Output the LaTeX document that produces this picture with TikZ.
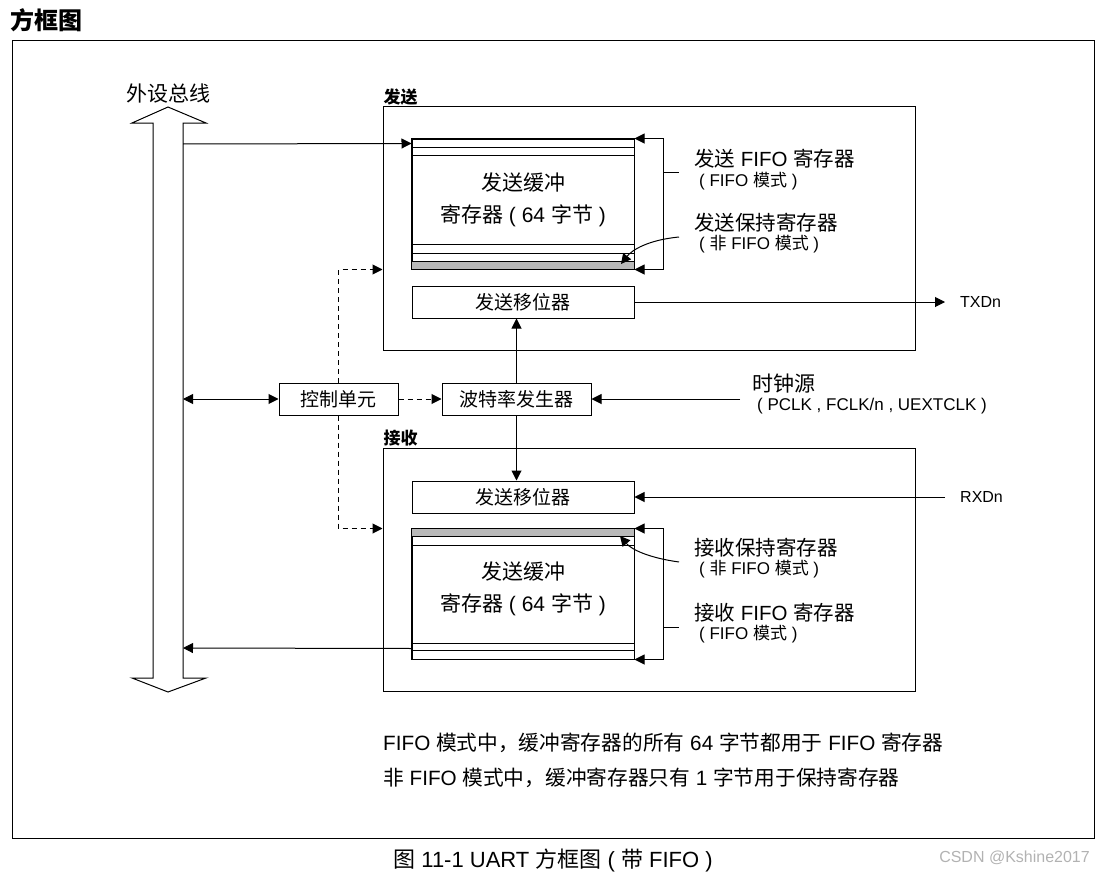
\documentclass[tikz,border=0pt]{standalone}
\usepackage{fontspec}
\setmainfont{Liberation Sans}
\newfontfamily\cjk{Noto Sans CJK SC}
\newcommand{\zh}[1]{{\cjk #1}}
\usetikzlibrary{arrows.meta,positioning}
\tikzset{
  arr/.style={line width=1pt,-{Triangle[length=10pt,width=10pt]}},
  dblarr/.style={line width=1pt,{Triangle[length=10pt,width=10pt]}-{Triangle[length=10pt,width=10pt]}},
  dasharr/.style={arr,dash pattern=on 5pt off 4pt},
  blk/.style={draw,line width=1pt,minimum width=222pt,minimum height=32pt,inner sep=0pt,font=\fontsize{19}{22}\selectfont\cjk},
  frm/.style={draw,line width=1pt,minimum width=532pt,minimum height=243pt,inner sep=0pt},
  big/.style={font=\fontsize{20.5}{22}\selectfont,inner sep=0pt},
  small/.style={font=\fontsize{17}{19}\selectfont,inner sep=0pt},
  sect/.style={anchor=south west,inner sep=1pt,font=\fontsize{17}{19}\selectfont\cjk\bfseries},
}
\begin{document}
\begin{tikzpicture}[x=1pt,y=-1pt]
  \useasboundingbox (0,0) rectangle (1104,875);
  \node[anchor=west,font=\fontsize{24}{26}\selectfont\cjk\bfseries,inner sep=0pt] (title) at (10,20) {方框图};
  \draw[line width=1pt] (12,41) rectangle (1094,838);

  % 外设总线
  \draw[line width=1pt] (153,678) -- (153,123) -- (132,123) -- (168,107) -- (206,123) -- (183,123)
     -- (183,678) -- (206,678) -- (168,692) -- (132,678) -- cycle;
  \node[big,font=\fontsize{21}{22}\selectfont\cjk] (bus) at (168,94) {外设总线};

  % 发送
  \node[frm] (txbox) at (649,228.5) {};
  \node[sect] at (txbox.north west) {发送};
  \node[draw,line width=1pt,minimum width=222pt,minimum height=130pt,inner sep=0pt] (txbuf) at (523,204) {};
  \fill[gray!55] ([yshift=8pt]txbuf.south west) rectangle (txbuf.south east);
  \foreach \d in {9,17} {
    \draw[line width=1pt] ([yshift=-\d pt]txbuf.north west) -- ([yshift=-\d pt]txbuf.north east);
  }
  \foreach \d in {8,16,25} {
    \draw[line width=1pt] ([yshift=\d pt]txbuf.south west) -- ([yshift=\d pt]txbuf.south east);
  }
  \draw[line width=1pt] (txbuf.south west) rectangle (txbuf.north east);
  \node[big,align=center,font=\fontsize{21}{22}\selectfont] at ([yshift=4pt]txbuf.center) {\zh{发送缓冲}\\[10pt]\zh{寄存器} ( 64 \zh{字节} )};
  \node[blk] (txshift) at (523,302) {发送移位器};

  \coordinate (txbr) at (663,172);
  \draw[arr] (txbr) |- (txbuf.north east);
  \draw[arr] (txbr) |- (txbuf.south east);
  \draw[line width=1pt] (txbr) -- ++(16,0);
  \draw[arr] (679,237) .. controls (648,240) and (632,250) .. (621,264);
  \node[big,anchor=west] (txfifo) at (694,159) {\zh{发送} FIFO \zh{寄存器}};
  \node[small,anchor=west] at (699,181) {( FIFO \zh{模式} )};
  \node[big,anchor=west] (txhold) at (694,223) {\zh{发送保持寄存器}};
  \node[small,anchor=west] at (699,244) {( \zh{非} FIFO \zh{模式} )};

  \coordinate (txd) at (945,302);
  \draw[arr] (txshift.east) -- (txd);
  \node[small,font=\fontsize{16}{18}\selectfont,anchor=west] at (960,302) {TXDn};

  % 控制 / 波特率
  \node[blk,minimum width=119pt] (ctrl) at (338.5,399) {控制单元};
  \node[blk,minimum width=149pt] (baud) at (516.5,399) {波特率发生器};
  \draw[dblarr] (183,399) -- (ctrl.west);
  \draw[dasharr] (ctrl.east) -- (baud.west);
  \draw[arr] (baud.north) -- (baud.north |- txshift.south);
  \coordinate (clk) at (740,399);
  \draw[arr] (clk) -- (baud.east);
  \node[big,anchor=west,font=\fontsize{21}{22}\selectfont\cjk] at (752,384) {时钟源};
  \node[small,anchor=west] at (757,406) {( PCLK , FCLK/n , UEXTCLK )};

  % 接收
  \node[frm] (rxbox) at (649,569.5) {};
  \node[sect] at (rxbox.north west) {接收};
  \node[blk] (rxshift) at (523,497) {发送移位器};
  \draw[arr] (baud.south) -- (baud.south |- rxshift.north);
  \node[draw,line width=1pt,minimum width=222pt,minimum height=130pt,inner sep=0pt] (rxbuf) at (523,594) {};
  \fill[gray!55] (rxbuf.north west) rectangle ([yshift=-8pt]rxbuf.north east);
  \foreach \d in {8,17} {
    \draw[line width=1pt] ([yshift=-\d pt]rxbuf.north west) -- ([yshift=-\d pt]rxbuf.north east);
  }
  \foreach \d in {9,16} {
    \draw[line width=1pt] ([yshift=\d pt]rxbuf.south west) -- ([yshift=\d pt]rxbuf.south east);
  }
  \draw[line width=1pt] (rxbuf.south west) rectangle (rxbuf.north east);
  \node[big,align=center,font=\fontsize{21}{22}\selectfont] at ([yshift=5pt]rxbuf.center) {\zh{发送缓冲}\\[10pt]\zh{寄存器} ( 64 \zh{字节} )};

  \coordinate (rxbr) at (663,627);
  \draw[arr] (rxbr) |- (rxbuf.north east);
  \draw[arr] (rxbr) |- (rxbuf.south east);
  \draw[line width=1pt] (rxbr) -- ++(16,0);
  \draw[arr] (679,562) .. controls (650,558) and (632,550) .. (620,536);
  \node[big,anchor=west] (rxhold) at (694,548) {\zh{接收保持寄存器}};
  \node[small,anchor=west] at (699,569) {( \zh{非} FIFO \zh{模式} )};
  \node[big,anchor=west] (rxfifo) at (694,613) {\zh{接收} FIFO \zh{寄存器}};
  \node[small,anchor=west] at (699,634) {( FIFO \zh{模式} )};

  \coordinate (rxd) at (945,497);
  \draw[arr] (rxd) -- (rxshift.east);
  \node[small,font=\fontsize{16}{18}\selectfont,anchor=west] at (960,497) {RXDn};

  % 总线连接
  \draw[arr] (183,144) -- ([yshift=-5pt]txbuf.north west);
  \draw[arr] ([yshift=11pt]rxbuf.south west) -- (183,648);
  \draw[dasharr] (ctrl.north) |- (txbox.west |- txbuf.south);
  \draw[dasharr] (ctrl.south) |- (rxbox.west |- rxbuf.north);

  \node[big,font=\fontsize{20.7}{22}\selectfont,anchor=west] at (383,743) {FIFO \zh{模式中，缓冲寄存器的所有} 64 \zh{字节都用于} FIFO \zh{寄存器}};
  \node[big,font=\fontsize{20.7}{22}\selectfont,anchor=west] at (383,778) {\zh{非} FIFO \zh{模式中，缓冲寄存器只有} 1 \zh{字节用于保持寄存器}};
  \node[big,font=\fontsize{22}{24}\selectfont] (caption) at (553,860) {\zh{图} 11-1 UART \zh{方框图} ( \zh{带} FIFO )};
  \node[small,font=\fontsize{16}{18}\selectfont,anchor=east,text=gray!60] at (1090,858) {CSDN @Kshine2017};
\end{tikzpicture}
\end{document}
